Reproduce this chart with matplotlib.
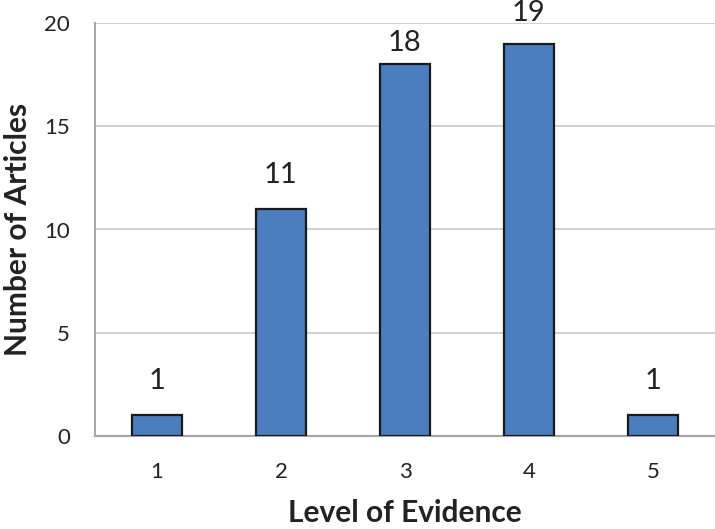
import matplotlib
matplotlib.use("Agg")
import matplotlib.pyplot as plt

levels = ["1", "2", "3", "4", "5"]
articles = [1, 11, 18, 19, 1]
label_gap_px = [21, 21, 8, 18, 21]

plt.rcParams['font.family'] = ['Lato', 'DejaVu Sans']

fig = plt.figure(figsize=(7.15, 5.29), dpi=100)
ax = fig.add_axes([95/715, 93/529, 620/715, 413/529])

x = list(range(1, len(levels) + 1))
bars = ax.bar(x, articles, width=0.4, color="#4A7EBF", edgecolor="#1a1a1a",
              linewidth=1.6, zorder=3)

for xi, v, gap in zip(x, articles, label_gap_px):
    ax.annotate(str(v), (xi, v), xytext=(0, gap * 0.72), textcoords="offset points",
                ha="center", va="bottom", fontsize=21, color="#222222",
                annotation_clip=False)

ax.set_xlim(0.5, 5.5)
ax.set_ylim(0, 20)
ax.set_yticks([0, 5, 10, 15, 20])
ax.set_xticks(x)
ax.set_xticklabels(levels)
ax.yaxis.grid(True, color="#C8C8C8", linewidth=1.2, zorder=0)
ax.set_axisbelow(True)

for s in ["top", "right"]:
    ax.spines[s].set_visible(False)
ax.spines["left"].set_color("#A6A6A6")
ax.spines["left"].set_linewidth(1.4)
ax.spines["bottom"].set_color("#A6A6A6")
ax.spines["bottom"].set_linewidth(1.6)

ax.tick_params(axis="both", length=0, labelsize=16, colors="#222222")
ax.tick_params(axis="y", pad=18)
ax.tick_params(axis="x", pad=19)

ax.set_xlabel("Level of Evidence", fontsize=21.5, fontweight="bold", labelpad=12, color="#222222")
ax.set_ylabel("Number of Articles", fontsize=21.5, fontweight="bold", labelpad=9, color="#222222")

fig.savefig("out.png", dpi=100)
